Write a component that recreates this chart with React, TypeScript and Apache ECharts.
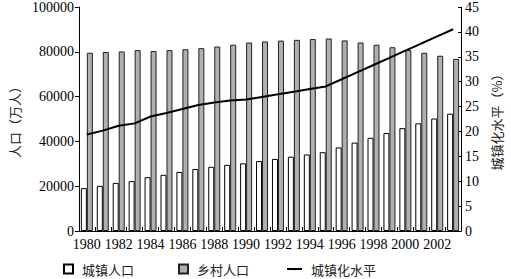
import React, { useEffect, useRef } from "react";
import * as echarts from "echarts";

const years = ["1980","1981","1982","1983","1984","1985","1986","1987","1988","1989","1990","1991","1992","1993","1994","1995","1996","1997","1998","1999","2000","2001","2002","2003"];
const urbanPop = [19140,20171,21480,22274,24017,25094,26366,27674,28661,29540,30195,31203,32175,33173,34169,35174,37304,39449,41608,43748,45906,48064,50212,52376];
const ruralPop = [79565,79901,80174,80734,80340,80757,81141,81626,82365,83164,84138,84620,84996,85344,85681,85947,85085,84177,83153,82038,80837,79563,78241,76851];
const urbanRate = [19.39,20.16,21.13,21.62,23.01,23.71,24.52,25.32,25.81,26.21,26.41,26.94,27.46,27.99,28.51,29.04,30.48,31.91,33.35,34.78,36.22,37.66,39.09,40.53];

const FONT = "'Liberation Serif', 'Noto Sans CJK SC', serif";
const CJK = "'Noto Sans CJK SC', sans-serif";

export default function App() {
  const ref = useRef<HTMLDivElement>(null);
  useEffect(() => {
    if (!ref.current) return;
    const chart = echarts.init(ref.current, undefined, { renderer: "svg" });
    const legendBase = {
      top: 261,
      padding: 0,
      itemWidth: 9,
      itemHeight: 9,
      textStyle: { fontFamily: CJK, fontSize: 13, lineHeight: 16, color: "#222", padding: [0, 0, 0, 4] },
      selectedMode: false,
    };
    chart.setOption({
      animation: false,
      backgroundColor: "#fff",
      grid: { left: 65, right: 38, top: 6, bottom: 48 },
      legend: [
        { ...legendBase, left: 63, data: [{ name: "城镇人口", icon: "rect" }] },
        { ...legendBase, left: 178, data: [{ name: "乡村人口", icon: "rect" }] },
        { ...legendBase, left: 286, itemWidth: 15, itemHeight: 3, data: [{ name: "城镇化水平" }] },
      ],
      xAxis: {
        type: "category",
        data: years,
        axisLine: { lineStyle: { color: "#000", width: 1 } },
        axisTick: { show: true, inside: true, length: 4, interval: 0, lineStyle: { color: "#000" } },
        axisLabel: { interval: 1, fontFamily: FONT, fontSize: 14, color: "#000", margin: 6 },
      },
      yAxis: [
        {
          type: "value",
          min: 0,
          max: 100000,
          interval: 20000,
          name: "人口（万人）",
          nameLocation: "middle",
          nameRotate: 90,
          nameGap: 50,
          nameTextStyle: { fontFamily: CJK, fontSize: 13, color: "#222" },
          axisLine: { show: true, lineStyle: { color: "#000" } },
          axisTick: { show: true, length: 4, lineStyle: { color: "#000" } },
          axisLabel: { fontFamily: FONT, fontSize: 14, color: "#000", margin: 5, formatter: (v: number) => String(v) },
          splitLine: { show: false },
        },
        {
          type: "value",
          min: 0,
          max: 45,
          interval: 5,
          name: "城镇化水平（%）",
          nameLocation: "middle",
          nameRotate: 90,
          nameGap: 26,
          nameTextStyle: { fontFamily: CJK, fontSize: 13, color: "#222" },
          axisLine: { show: true, lineStyle: { color: "#000" } },
          axisTick: { show: true, inside: true, length: 3, lineStyle: { color: "#000" } },
          axisLabel: { fontFamily: FONT, fontSize: 14, color: "#000", margin: 4 },
          splitLine: { show: false },
        },
      ],
      series: [
        {
          name: "城镇人口",
          type: "bar",
          data: urbanPop,
          barWidth: 6,
          barGap: "0%",
          itemStyle: { color: "#fff", borderColor: "#000", borderWidth: 1 },
        },
        {
          name: "乡村人口",
          type: "bar",
          data: ruralPop,
          barWidth: 6,
          barGap: "0%",
          itemStyle: { color: "#b0b0b0", borderColor: "#222", borderWidth: 1 },
        },
        {
          name: "城镇化水平",
          type: "line",
          yAxisIndex: 1,
          data: urbanRate,
          showSymbol: false,
          symbol: "none",
          lineStyle: { color: "#000", width: 2 },
          itemStyle: { color: "#000" },
        },
      ],
    });
    return () => chart.dispose();
  }, []);
  return <div ref={ref} style={{ width: 511, height: 279, position: "absolute", left: 0, top: 0 }} />;
}
